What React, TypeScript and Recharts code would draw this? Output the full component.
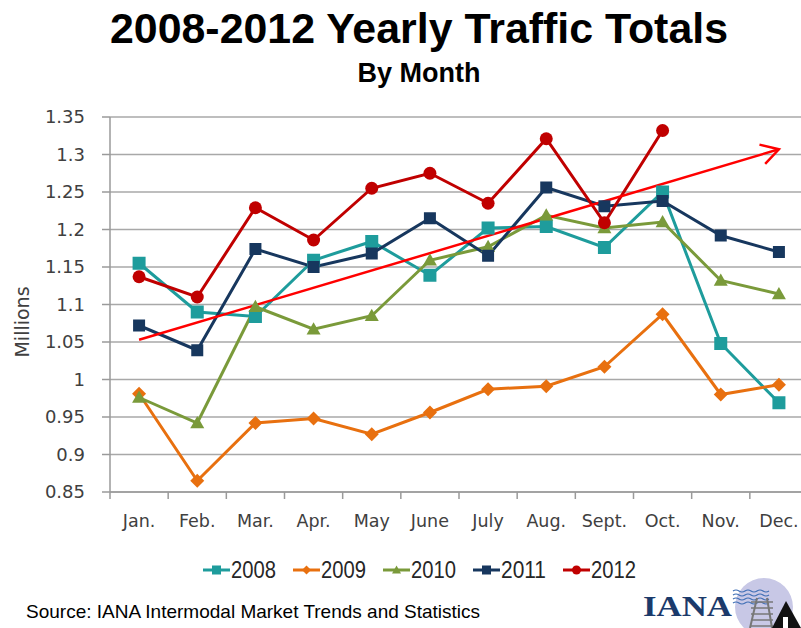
import React from 'react';
import { LineChart, Line, XAxis, YAxis, CartesianGrid, ReferenceLine } from 'recharts';

const months = ['Jan.', 'Feb.', 'Mar.', 'Apr.', 'May', 'June', 'July', 'Aug.', 'Sept.', 'Oct.', 'Nov.', 'Dec.'];
const v2008 = [1.155, 1.090, 1.084, 1.159, 1.184, 1.139, 1.202, 1.204, 1.176, 1.250, 1.048, 0.969];
const v2009 = [0.981, 0.865, 0.942, 0.948, 0.927, 0.956, 0.987, 0.991, 1.017, 1.087, 0.980, 0.993];
const v2010 = [0.976, 0.942, 1.097, 1.067, 1.085, 1.159, 1.177, 1.219, 1.202, 1.210, 1.132, 1.114];
const v2011 = [1.072, 1.039, 1.174, 1.150, 1.168, 1.215, 1.165, 1.256, 1.231, 1.238, 1.192, 1.170];
const v2012 = [1.137, 1.110, 1.229, 1.186, 1.255, 1.275, 1.235, 1.321, 1.209, 1.332, null, null];
const yTicks = [0.85, 0.9, 0.95, 1, 1.05, 1.1, 1.15, 1.2, 1.25, 1.3, 1.35];
const trendFrom = { month: 'Jan.', value: 1.053 };
const trendTo = { month: 'Dec.', value: 1.307 };

const seriesNames = ['2008', '2009', '2010', '2011', '2012'];
const seriesValues = [v2008, v2009, v2010, v2011, v2012];
const seriesColors = ['#1E9C9C', '#E8700F', '#7A9A3A', '#17375E', '#C00000'];
const seriesMarkers = ['square', 'diamond', 'triangle', 'square', 'circle'];
const markerSizes = [13, 14, 14, 12, 13];

const data = months.map((m, i) => {
  const row: any = { month: m };
  seriesNames.forEach((n, k) => {
    row[n] = seriesValues[k][i];
  });
  return row;
});

const CHART_W = 810;
const CHART_H = 628;
const LEFT = 110;
const RIGHT_M = 2;
const TOP = 117;
const BOTTOM = 136;
const PLOT_W = CHART_W - LEFT - RIGHT_M;
const HALF_BAND = PLOT_W / months.length / 2;

function Marker({ type, cx, cy, size, color }: any) {
  const h = size / 2;
  if (type === 'square') {
    return <rect x={cx - h} y={cy - h} width={size} height={size} fill={color} />;
  }
  if (type === 'diamond') {
    return <polygon points={`${cx},${cy - h} ${cx + h},${cy} ${cx},${cy + h} ${cx - h},${cy}`} fill={color} />;
  }
  if (type === 'triangle') {
    return <polygon points={`${cx},${cy - h} ${cx + h},${cy + h * 0.75} ${cx - h},${cy + h * 0.75}`} fill={color} />;
  }
  return <circle cx={cx} cy={cy} r={h} fill={color} />;
}

function makeDot(k: number) {
  return (props: any) => {
    const { cx, cy, index, value } = props;
    if (cx == null || cy == null || value == null) return <g key={`e-${k}-${index}`} />;
    return (
      <g key={`d-${k}-${index}`}>
        <Marker type={seriesMarkers[k]} cx={cx} cy={cy} size={markerSizes[k]} color={seriesColors[k]} />
      </g>
    );
  };
}

const XTick = (props: any) => {
  const { x, y, payload, index } = props;
  return (
    <g>
      <line x1={x - HALF_BAND} y1={y} x2={x - HALF_BAND} y2={y + 7} stroke="#9A9A9A" strokeWidth={1.5} />
      {index === months.length - 1 && (
        <line x1={x + HALF_BAND} y1={y} x2={x + HALF_BAND} y2={y + 7} stroke="#9A9A9A" strokeWidth={1.5} />
      )}
      <text x={x} y={y + 35} textAnchor="middle" fontFamily="'DejaVu Sans', sans-serif" fontSize={17.5} fill="#404040">
        {payload.value}
      </text>
    </g>
  );
};

const TrendArrow = (props: any) => {
  const { x1, y1, x2, y2 } = props;
  if ([x1, y1, x2, y2].some((v) => v == null || isNaN(v))) return <g />;
  const ang = Math.atan2(y1 - y2, x1 - x2);
  const L = 20;
  const a1 = ang + Math.PI / 6;
  const a2 = ang - Math.PI / 6;
  return (
    <g>
      <line x1={x1} y1={y1} x2={x2} y2={y2} stroke="#FF0000" strokeWidth={2.5} />
      <polyline
        points={`${x2 + L * Math.cos(a1)},${y2 + L * Math.sin(a1)} ${x2},${y2} ${x2 + L * Math.cos(a2)},${y2 + L * Math.sin(a2)}`}
        fill="none"
        stroke="#FF0000"
        strokeWidth={2.5}
      />
    </g>
  );
};

function LegendIcon({ k, x, y }: { k: number; x: number; y: number }) {
  return (
    <g>
      <line x1={x} y1={y} x2={x + 27} y2={y} stroke={seriesColors[k]} strokeWidth={3} />
      <Marker type={seriesMarkers[k]} cx={x + 13.5} cy={y} size={9} color={seriesColors[k]} />
    </g>
  );
}

const LEGEND_X = 203;
const LEGEND_STEP = 90;
const LEGEND_Y = 570;

export default function App() {
  return (
    <div
      style={{
        position: 'absolute',
        left: 0,
        top: 0,
        width: 801,
        height: 628,
        overflow: 'hidden',
        background: '#ffffff',
      }}
    >
      <LineChart
        width={CHART_W}
        height={CHART_H}
        data={data}
        margin={{ top: TOP, right: RIGHT_M, left: 0, bottom: BOTTOM - 40 }}
      >
        <CartesianGrid vertical={false} stroke="#A8A8A8" strokeWidth={1.5} />
        <XAxis
          dataKey="month"
          interval={0}
          height={40}
          padding={{ left: HALF_BAND, right: HALF_BAND }}
          tickLine={false}
          tickSize={0}
          tickMargin={0}
          axisLine={{ stroke: '#9A9A9A', strokeWidth: 1.5 }}
          tick={<XTick />}
        />
        <YAxis
          width={LEFT}
          domain={[0.85, 1.35]}
          ticks={yTicks}
          interval={0}
          allowDataOverflow
          tickFormatter={(v: number) => String(v)}
          tickSize={8}
          tickMargin={17}
          tickLine={{ stroke: '#9A9A9A', strokeWidth: 1.5 }}
          axisLine={{ stroke: '#9A9A9A', strokeWidth: 1.5 }}
          tick={{ fontFamily: "'DejaVu Sans', sans-serif", fontSize: 18, fill: '#404040' }}
        />
        {seriesNames.map((n, k) => (
          <Line
            key={n}
            dataKey={n}
            name={n}
            stroke={seriesColors[k]}
            strokeWidth={3}
            dot={makeDot(k)}
            activeDot={false}
            isAnimationActive={false}
          />
        ))}
        <ReferenceLine
          segment={[
            { x: trendFrom.month, y: trendFrom.value },
            { x: trendTo.month, y: trendTo.value },
          ]}
          ifOverflow="visible"
          shape={<TrendArrow />}
        />
      </LineChart>

      <svg
        width={801}
        height={628}
        style={{ position: 'absolute', left: 0, top: 0, pointerEvents: 'none' }}
      >
        <text x={419} y={43} textAnchor="middle" fontFamily="'Liberation Sans', Arial, sans-serif" fontWeight="bold" fontSize={43} textLength={618} lengthAdjust="spacingAndGlyphs" fill="#000">
          2008-2012 Yearly Traffic Totals
        </text>
        <text x={419} y={82} textAnchor="middle" fontFamily="'Liberation Sans', Arial, sans-serif" fontWeight="bold" fontSize={27} fill="#000">
          By Month
        </text>
        <text
          x={0}
          y={0}
          transform="translate(29,322) rotate(-90)"
          textAnchor="middle"
          fontFamily="'DejaVu Sans', sans-serif"
          fontSize={19}
          fill="#404040"
        >
          Millions
        </text>
        <text x={26} y={618} fontFamily="'Liberation Sans', Arial, sans-serif" fontSize={19} fill="#000">
          Source: IANA Intermodal Market Trends and Statistics
        </text>
        {seriesNames.map((n, k) => (
          <g key={n}>
            <LegendIcon k={k} x={LEGEND_X + k * LEGEND_STEP} y={LEGEND_Y} />
            <text
              x={LEGEND_X + k * LEGEND_STEP + 28}
              y={LEGEND_Y + 8}
              fontFamily="'Liberation Sans', Arial, sans-serif"
              fontSize={23}
              textLength={45}
              lengthAdjust="spacingAndGlyphs"
              fill="#262626"
            >
              {n}
            </text>
          </g>
        ))}
        <g>
          <circle cx={764} cy={607} r={29} fill="#C8C8E6" />
          {[0, 1, 2, 3].map((r) => (
            <path
              key={r}
              d={`M733 ${591 + r * 4} q3 -2 6 0 t6 0 t6 0 t6 0 t6 0 t6 0`}
              fill="none"
              stroke="#3F6FB5"
              strokeWidth={1.2}
            />
          ))}
          <line x1={757} y1={598} x2={750} y2={628} stroke="#777" strokeWidth={2} />
          <line x1={767} y1={598} x2={772} y2={628} stroke="#777" strokeWidth={2} />
          {[602, 608, 614, 620, 626].map((y) => (
            <line key={y} x1={751} y1={y} x2={773} y2={y} stroke="#777" strokeWidth={1.5} />
          ))}
          <polygon points="772,628 786,601 801,628" fill="#111" />
          <rect x={783} y={617} width={5} height={11} fill="#fff" />
          <text x={643} y={616} fontFamily="'Liberation Serif', 'DejaVu Serif', serif" fontWeight="bold" fontSize={30} textLength={89} lengthAdjust="spacingAndGlyphs" fill="#1B3A6B">
            IANA
          </text>
        </g>
      </svg>
    </div>
  );
}
